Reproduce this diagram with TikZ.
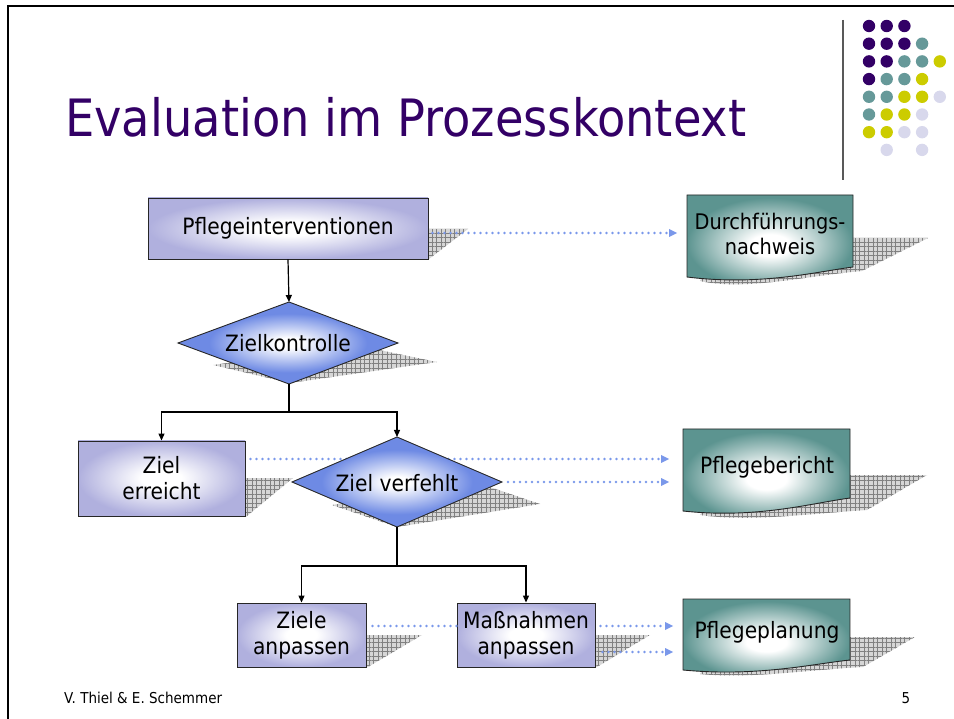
\documentclass[tikz,border=0pt]{standalone}
\usepackage{fontspec}
\setmainfont[FakeStretch=0.9]{DejaVu Sans}
\usetikzlibrary{arrows.meta,patterns.meta}
\definecolor{titlep}{RGB}{51,0,102}
\definecolor{dteal}{RGB}{102,153,153}
\definecolor{dyel}{RGB}{204,204,0}
\definecolor{dlav}{RGB}{216,216,236}
\definecolor{lav}{RGB}{176,176,222}
\definecolor{diab}{RGB}{110,138,228}
\definecolor{docg}{RGB}{92,148,144}
\definecolor{dotb}{RGB}{122,152,234}
\pgfdeclareradialshading{boxshade}{\pgfpoint{0bp}{0bp}}{color(0bp)=(white); color(6bp)=(white); color(25bp)=(lav); color(50bp)=(lav)}
\pgfdeclareradialshading{diashade}{\pgfpoint{0bp}{0bp}}{color(0bp)=(white); color(3bp)=(white); color(18bp)=(diab); color(50bp)=(diab)}
\pgfdeclareradialshading{docshade}{\pgfpoint{0bp}{-3bp}}{color(0bp)=(white); color(6bp)=(white); color(25bp)=(docg); color(50bp)=(docg)}
\tikzset{
  boxn/.style={draw=black!85, line width=0.9pt, shading=boxshade, inner sep=0pt, align=center, font=\fontsize{22.5}{26}\selectfont},
  dian/.style={draw=black!85, line width=0.9pt, shading=diashade},
  docn/.style={draw=black!85, line width=0.9pt, shading=docshade},
  lbl/.style={align=center, inner sep=0pt, font=\fontsize{22.5}{26}\selectfont},
  shad/.style={preaction={fill=gray!32}, pattern={Hatch[angle=0,distance=4.5pt,line width=0.5pt]}, pattern color=gray},
  conn/.style={draw=black, line width=1.2pt, -{Triangle[length=7pt,width=6pt]}},
  dotline/.style={draw=dotb, line width=2.7pt, line cap=round, dash pattern=on 0pt off 6pt},
  dottip/.style={-{Triangle[length=8pt,width=8pt,line width=0pt]}},
  dot/.style={radius=6.2pt}
}
\begin{document}
\begin{tikzpicture}[x=1pt,y=-1pt]
\useasboundingbox (0,0) rectangle (954,719);
% frame
\draw[line width=2.3pt] (8,719) -- (8,6) -- (954,6);
\draw[line width=1.2pt, black!65] (843,20) -- (843,180);
% dots
\foreach \c/\r/\col in {1/1/titlep,2/1/titlep,3/1/titlep,
  1/2/titlep,2/2/titlep,3/2/titlep,4/2/dteal,
  1/3/titlep,2/3/titlep,3/3/dteal,4/3/dteal,5/3/dyel,
  1/4/titlep,2/4/dteal,3/4/dteal,4/4/dyel,
  1/5/dteal,2/5/dteal,3/5/dyel,4/5/dyel,5/5/dlav,
  1/6/dteal,2/6/dyel,3/6/dyel,4/6/dlav,
  1/7/dyel,2/7/dyel,3/7/dlav,4/7/dlav,
  2/8/dlav,4/8/dlav}
  \fill[\col] ({851.3+17.7*\c},{8.3+17.7*\r}) circle[dot];
% title
\node[anchor=base west, inner sep=0pt, text=titlep, font=\fontsize{51.5}{60}\selectfont] (title) at (65,137) {Evaluation im Prozesskontext};
% shadows
\path[shad] (300,229) -- (468,229) -- (429,259) -- (200,259) -- cycle;
\path[shad] (213,365) -- (355,345) -- (437,362) -- (290,383) -- cycle;
\path[shad] (130,478) -- (293,478) -- (247,516) -- (80,516) -- cycle;
\path[shad] (332,505) -- (475,482) -- (540,504) -- (397,527) -- cycle;
\path[shad] (720,238) -- (928,238) -- (862,271) .. controls (805,276) and (745,291) .. (700,281) -- cycle;
\path[shad] (720,475) -- (927,475) -- (867,510) .. controls (805,514) and (750,522) .. (700,515) -- cycle;
\path[shad] (720,637) -- (915,637) -- (863,667) .. controls (805,670) and (750,679) .. (700,674) -- cycle;
\path[shad] (280,635) -- (422,635) -- (368,667) -- (240,667) -- cycle;
\path[shad] (500,635) -- (650,635) -- (597,667) -- (460,667) -- cycle;
% coordinates
\coordinate (zkT) at (289,302); \coordinate (zkB) at (289,384);
\coordinate (zvT) at (397,437); \coordinate (zvB) at (397,527); \coordinate (zvR) at (502,482);
\coordinate (j1) at (289,412); \coordinate (j2) at (397,566);
\coordinate (dnIn) at (677,233);
\coordinate (pbIn1) at (669,459); \coordinate (pbIn2) at (669,482);
\coordinate (ppIn1) at (673,626); \coordinate (ppIn2) at (673,652);
% boxes
\node[boxn, minimum width=280pt, minimum height=61pt] (pi) at (288,228.5) {Pflegeinterventionen};
\node[boxn, minimum width=167pt, minimum height=75pt] (ze) at (161.5,478.5) {Ziel\\erreicht};
\node[boxn, minimum width=129pt, minimum height=64pt] (za) at (301.5,635) {Ziele\\anpassen};
\node[boxn, minimum width=138pt, minimum height=64pt] (ma) at (526,635) {Maßnahmen\\anpassen};
% dotted lines
\draw[dotline, dottip] ([xshift=4pt,yshift=-4.5pt]pi.east) -- (dnIn);
\draw[dotline, dottip] ([xshift=5pt,yshift=19.5pt]ze.east) -- (pbIn1);
\draw[dotline, dottip] ([xshift=6pt]zvR) -- (pbIn2);
\draw[dotline] ([xshift=6pt,yshift=9pt]za.east) -- ([yshift=9pt]ma.west);
\draw[dotline, dottip] ([xshift=5pt,yshift=9pt]ma.east) -- (ppIn1);
\draw[dotline, dottip] ([xshift=7pt,yshift=-17pt]ma.east) -- (ppIn2);
% diamonds
\path[dian] (178,343) -- (zkT) -- (398,343) -- (zkB) -- cycle;
\node[lbl] (zk) at (288,343) {Zielkontrolle};
\path[dian] (292,482) -- (zvT) -- (zvR) -- (zvB) -- cycle;
\node[lbl] (zv) at (397,483) {Ziel verfehlt};
% documents
\path[docn] (687,195) -- (853,195) -- (853,267) .. controls (815,272) and (760,286) .. (687,277) -- cycle;
\node[lbl, font=\fontsize{21.5}{25}\selectfont] (dn) at (770,234) {Durchführungs-\\nachweis};
\path[docn] (683,429) -- (850,429) -- (850,498) .. controls (812,503) and (757,519) .. (683,511) -- cycle;
\node[lbl] (pb) at (767,467) {Pflegebericht};
\path[docn] (683,599) -- (850,599) -- (850,660) .. controls (812,664) and (757,677) .. (683,670) -- cycle;
\node[lbl] (pp) at (767,632) {Pflegeplanung};
% connectors
\draw[conn] (pi.south) -- (zkT);
\draw[line width=1.2pt] (zkB) -- (j1);
\draw[conn] (j1) -| (ze.north);
\draw[conn] (j1) -| (zvT);
\draw[line width=1.2pt] (zvB) -- (j2);
\draw[conn] (j2) -| (za.north);
\draw[conn] (j2) -| (ma.north);
% footer
\node[anchor=base west, inner sep=0pt, font=\fontsize{15}{17}\selectfont] (foot) at (64,703) {V. Thiel \& E. Schemmer};
\node[anchor=base, inner sep=0pt, font=\fontsize{15}{17}\selectfont] (pnum) at (906,703) {5};
\end{tikzpicture}
\end{document}
